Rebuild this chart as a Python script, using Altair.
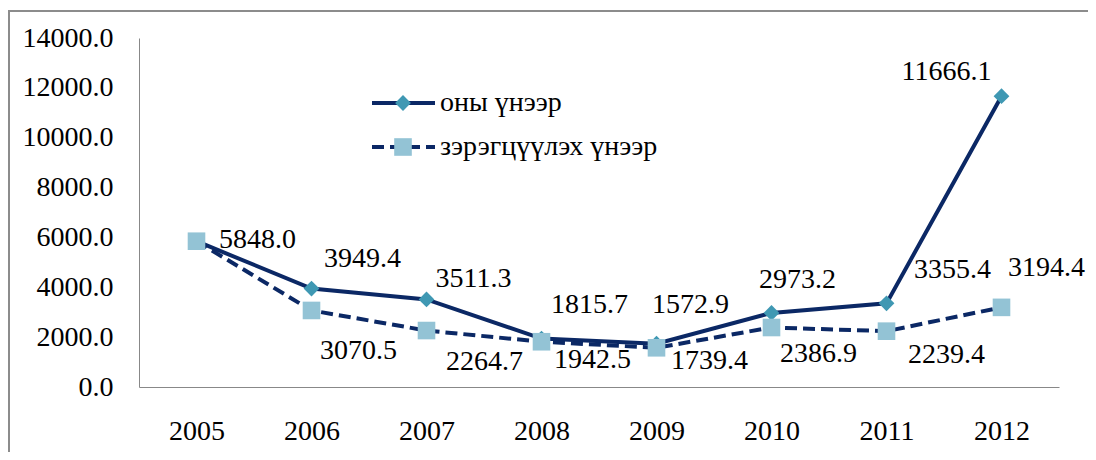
import altair as alt
import pandas as pd

years = ["2005", "2006", "2007", "2008", "2009", "2010", "2011", "2012"]
current_prices = [5848.0, 3949.4, 3511.3, 1942.5, 1739.4, 2973.2, 3355.4, 11666.1]
comparable_prices = [5848.0, 3070.5, 2264.7, 1815.7, 1572.9, 2386.9, 2239.4, 3194.4]
series_names = ["оны үнээр", "зэрэгцүүлэх үнээр"]

# label offsets (style only): (dx, dy) in px relative to each point; None = no label
current_offsets = [(61, -1), (51, -30), (47, -20), (51, 21), (53, 17), (26, -33), (66, -33), (-55, -24)]
comparable_offsets = [None, (47, 41), (58, 31), (48, -37), (34, -43), (47, 27), (60, 24), (45, -39)]

NAVY = "#0b2865"
DIAMOND = "#3f98b3"
SQUARE = "#93c3d5"
FONT = "Liberation Serif"
FS = 28

df_cur = pd.DataFrame({"year": years, "value": current_prices, "series": series_names[0]})
df_cmp = pd.DataFrame({"year": years, "value": comparable_prices, "series": series_names[1]})

x_enc = alt.X("year:O", scale=alt.Scale(type="point", padding=0.5),
              axis=alt.Axis(title=None, labelAngle=0, ticks=False, domainColor="#888888",
                            labelFont=FONT, labelFontSize=FS, labelColor="#000000",
                            labelPadding=30))
y_enc = alt.Y("value:Q", scale=alt.Scale(domain=[0, 14000]),
              axis=alt.Axis(title=None, grid=False, ticks=False, format=".1f",
                            values=list(range(0, 14001, 2000)), domainColor="#888888",
                            labelFont=FONT, labelFontSize=FS, labelColor="#000000",
                            labelPadding=26))

line_cur = alt.Chart(df_cur).mark_line(color=NAVY, strokeWidth=4).encode(x=x_enc, y=y_enc)
pts_cur = alt.Chart(df_cur).mark_point(shape="diamond", filled=True, size=250, color=DIAMOND, opacity=1).encode(x="year:O", y="value:Q")
line_cmp = alt.Chart(df_cmp).mark_line(color=NAVY, strokeWidth=4, strokeDash=[12, 6]).encode(x="year:O", y="value:Q")
pts_cmp = alt.Chart(df_cmp).mark_point(shape="square", filled=True, size=310, color=SQUARE, opacity=1).encode(x="year:O", y="value:Q")

labels = []
for df, offs in [(df_cur, current_offsets), (df_cmp, comparable_offsets)]:
    for i, off in enumerate(offs):
        if off is None:
            continue
        row = df.iloc[[i]].copy()
        row["label"] = row["value"].map(lambda v: f"{v:.1f}")
        labels.append(
            alt.Chart(row).mark_text(dx=off[0], dy=off[1], font=FONT, fontSize=FS, color="#000000",
                                     align="center", baseline="middle")
            .encode(x="year:O", y="value:Q", text="label:N")
        )

one = pd.DataFrame({"k": [0]})
frame = alt.Chart(one).mark_rect(filled=False, stroke="#8c8c8c", strokeWidth=2).encode(
    x=alt.value(-130), x2=alt.value(1000), y=alt.value(-27), y2=alt.value(500))

leg_rule1 = alt.Chart(one).mark_rule(color=NAVY, strokeWidth=4).encode(
    x=alt.value(233), x2=alt.value(296), y=alt.value(65))
leg_pt1 = alt.Chart(one).mark_point(shape="diamond", filled=True, size=250, color=DIAMOND, opacity=1).encode(
    x=alt.value(264), y=alt.value(65))
leg_txt1 = alt.Chart(one).mark_text(font=FONT, fontSize=FS, align="left", baseline="middle", color="#000000").encode(
    x=alt.value(301), y=alt.value(65), text=alt.value(series_names[0]))
leg_rule2 = alt.Chart(one).mark_rule(color=NAVY, strokeWidth=4, strokeDash=[12, 6]).encode(
    x=alt.value(233), x2=alt.value(296), y=alt.value(109))
leg_pt2 = alt.Chart(one).mark_point(shape="square", filled=True, size=310, color=SQUARE, opacity=1).encode(
    x=alt.value(264), y=alt.value(109))
leg_txt2 = alt.Chart(one).mark_text(font=FONT, fontSize=FS, align="left", baseline="middle", color="#000000").encode(
    x=alt.value(301), y=alt.value(109), text=alt.value(series_names[1]))

chart = alt.layer(
    frame, line_cur, pts_cur, line_cmp, pts_cmp, *labels,
    leg_rule1, leg_pt1, leg_txt1, leg_rule2, leg_pt2, leg_txt2
).properties(
    width=920, height=349,
    autosize=alt.AutoSizeParams(type="none"),
    padding={"left": 131, "top": 30, "right": 29, "bottom": 65},
    background="#ffffff"
).configure_view(stroke=None)

chart.save("out.html", embed_options={"renderer": "svg", "actions": False})
